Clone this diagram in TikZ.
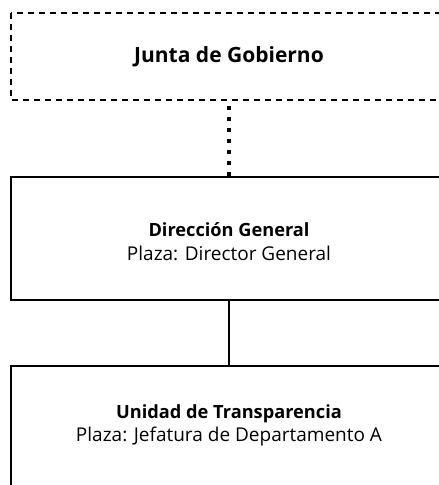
\documentclass[tikz,border=0pt]{standalone}
\usepackage{fontspec}
\setmainfont{Open Sans}
\begin{document}
\begin{tikzpicture}[x=1pt,y=-1pt,
  orgbox/.style={draw=black,line width=1.5pt},
  dashbox/.style={draw=black,line width=1.5pt,dash pattern=on 6pt off 5pt},
  bigtitle/.style={font=\fontsize{21}{24}\selectfont\bfseries,inner sep=0pt},
  title/.style={font=\fontsize{18.2}{22}\selectfont\bfseries,inner sep=0pt},
  sub/.style={font=\fontsize{19}{22}\selectfont,inner sep=0pt},
  dotline/.style={line width=4.5pt,dash pattern=on 4.5pt off 6.5pt},
  solidline/.style={line width=1.2pt}]
\useasboundingbox (0,0) rectangle (439,485);
\clip (0,0) rectangle (439,485);
\fill[white] (0,0) rectangle (439,485);
% boxes
\draw[dashbox] (11,13) rectangle (447,100);
\node[draw=none,minimum width=436pt,minimum height=87pt,inner sep=0pt] (junta) at (229,56.5) {};
\draw[orgbox] (11,177) rectangle (447,300);
\node[draw=none,minimum width=436pt,minimum height=123pt,inner sep=0pt] (dir) at (229,238.5) {};
\draw[orgbox] (11,366) rectangle (447,500);
\node[draw=none,minimum width=436pt,minimum height=134pt,inner sep=0pt] (uni) at (229,433) {};
% texts
\node[bigtitle] (t1) at (229,57) {Junta de Gobierno};
\node[title] (t2) at (229,230) {Dirección General};
\node[sub] (s2) at (229,253) {Plaza: Director General};
\node[title] (t3) at (229,414) {Unidad de Transparencia};
\node[sub] (s3) at (229,437) {Plaza: Jefatura de Departamento A};
% connectors
\draw[dotline] ([yshift=-5.5pt]junta.south) -- (dir.north);
\draw[solidline] (dir.south) -- (uni.north);
\end{tikzpicture}
\end{document}
